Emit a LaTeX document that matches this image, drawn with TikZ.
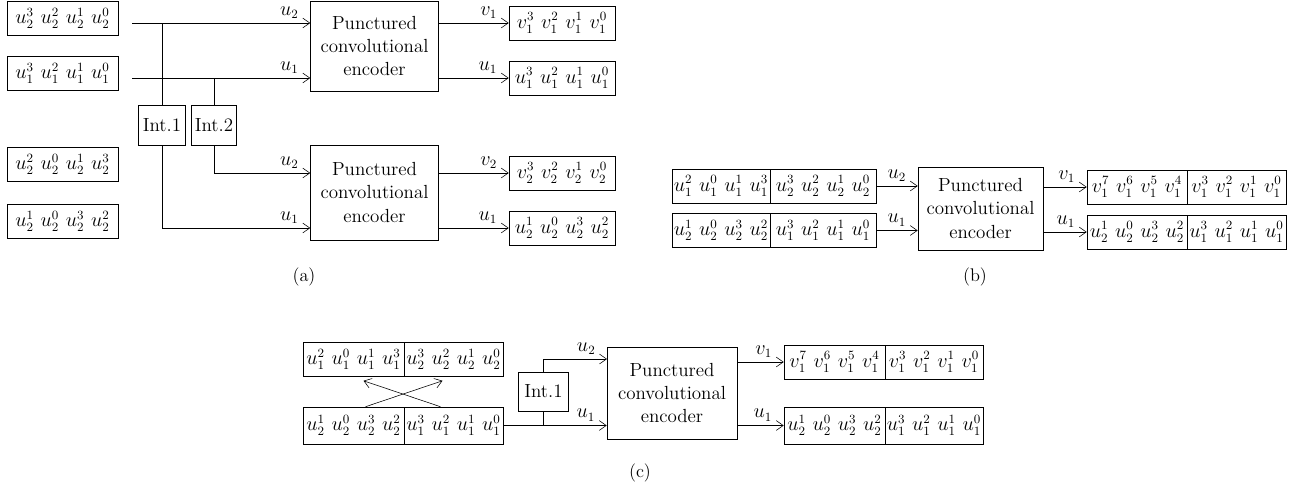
\documentclass[tikz,border=0pt]{standalone}
\usepackage{amsmath}
\usepackage{amssymb}
\usetikzlibrary{arrows.meta, positioning, calc}
\newcommand{\gp}{\mkern6mu}

\begin{document}
\begin{tikzpicture}[x=0.025cm, y=-0.025cm, >={Straight Barb[length=5pt,width=7pt]},
  every node/.style={font=\fontsize{13.5}{16.5}\selectfont},
  seqbox/.style={draw, inner sep=0pt, minimum height=34*0.025cm},
  encbox/.style={draw, inner sep=0pt, align=center, minimum width=128*0.025cm},
  intbox/.style={draw, inner sep=0pt, minimum height=40*0.025cm},
  lbl/.style={above left, inner sep=0pt, xshift=-8pt, yshift=3pt},
  captext/.style={font=\fontsize{13}{15}\selectfont}]

\useasboundingbox (0,0) rectangle (1307,488);

% (a) Input sequences
\node[seqbox,minimum width=111*0.025cm] (ina2) at (62.5,18.5) {$u_2^3\gp u_2^2\gp u_2^1\gp u_2^0$};
\node[seqbox,minimum width=111*0.025cm] (ina1) at (62.5,73.5) {$u_1^3\gp u_1^2\gp u_1^1\gp u_1^0$};
\node[seqbox,minimum width=111*0.025cm] (ina3) at (62.5,164.5) {$u_2^2\gp u_2^0\gp u_2^1\gp u_2^3$};
\node[seqbox,minimum width=111*0.025cm] (ina4) at (62.5,221.5) {$u_2^1\gp u_2^0\gp u_2^3\gp u_2^2$};

% (a) Encoders
\node[encbox,minimum height=90*0.025cm] (enca) at (374.5,46) {Punctured\\convolutional\\encoder};
\node[encbox,minimum height=95*0.025cm] (encb) at (374.5,192.5) {Punctured\\convolutional\\encoder};

% (a) Interleavers
\node[intbox,minimum width=47*0.025cm] (inta) at (162,125) {Int.1};
\node[intbox,minimum width=45*0.025cm] (intb) at (214,125) {Int.2};

% (a) Outputs
\node[seqbox,minimum width=106*0.025cm] (outa1) at (562,23) {$v_1^3\gp v_1^2\gp v_1^1\gp v_1^0$};
\node[seqbox,minimum width=106*0.025cm] (outa2) at (562,78) {$u_1^3\gp u_1^2\gp u_1^1\gp u_1^0$};
\node[seqbox,minimum width=106*0.025cm] (outa3) at (562,173) {$v_2^3\gp v_2^2\gp v_2^1\gp v_2^0$};
\node[seqbox,minimum width=106*0.025cm] (outa4) at (562,228) {$u_2^1\gp u_2^0\gp u_2^3\gp u_2^2$};

% (a) Connections
\coordinate (sa2) at (132,23);
\coordinate (sa1) at (132,78);
\draw[->] (sa2) -- (enca.west |- sa2) node[lbl] {$u_2$};
\draw[->] (sa1) -- (enca.west |- sa1) node[lbl] {$u_1$};
\draw (inta.north |- sa2) -- (inta.north);
\draw (intb.north |- sa1) -- (intb.north);
\draw[->] (intb.south) |- (encb.west |- outa3) node[lbl] {$u_2$};
\draw[->] (inta.south) |- (encb.west |- outa4) node[lbl] {$u_1$};
\draw[->] (enca.east |- outa1) -- (outa1.west) node[lbl] {$v_1$};
\draw[->] (enca.east |- outa2) -- (outa2.west) node[lbl] {$u_1$};
\draw[->] (encb.east |- outa3) -- (outa3.west) node[lbl] {$v_2$};
\draw[->] (encb.east |- outa4) -- (outa4.west) node[lbl] {$u_1$};

\node[captext] (capa) at (304,277) {(a)};

% (b) Input sequences
\node[seqbox,minimum width=98*0.025cm] (inb2l) at (721,186) {$u_1^2\gp u_1^0\gp u_1^1\gp u_1^3$};
\node[seqbox,minimum width=106*0.025cm] (inb2r) at (823,186) {$u_2^3\gp u_2^2\gp u_2^1\gp u_2^0$};
\node[seqbox,minimum width=98*0.025cm] (inb1l) at (721,230.5) {$u_2^1\gp u_2^0\gp u_2^3\gp u_2^2$};
\node[seqbox,minimum width=106*0.025cm] (inb1r) at (823,230.5) {$u_1^3\gp u_1^2\gp u_1^1\gp u_1^0$};

% (b) Encoder
\node[encbox,minimum width=125*0.025cm,minimum height=83*0.025cm] (encc) at (980.5,208.5) {Punctured\\convolutional\\encoder};

% (b) Outputs
\node[seqbox,minimum width=100*0.025cm] (outb1l) at (1137,187) {$v_1^7\gp v_1^6\gp v_1^5\gp v_1^4$};
\node[seqbox,minimum width=99*0.025cm] (outb1r) at (1236.5,187) {$v_1^3\gp v_1^2\gp v_1^1\gp v_1^0$};
\node[seqbox,minimum width=100*0.025cm] (outb2l) at (1137,232) {$u_2^1\gp u_2^0\gp u_2^3\gp u_2^2$};
\node[seqbox,minimum width=99*0.025cm] (outb2r) at (1236.5,232) {$u_1^3\gp u_1^2\gp u_1^1\gp u_1^0$};

% (b) Connections
\draw[->] (inb2r.east) -- (encc.west |- inb2r.east) node[lbl] {$u_2$};
\draw[->] (inb1r.east) -- (encc.west |- inb1r.east) node[lbl] {$u_1$};
\draw[->] (encc.east |- outb1l.west) -- (outb1l.west) node[lbl] {$v_1$};
\draw[->] (encc.east |- outb2l.west) -- (outb2l.west) node[lbl] {$u_1$};

\node[captext] (capb) at (975,277) {(b)};

% (c) Input sequences
\node[seqbox,minimum width=101*0.025cm] (inc2l) at (353.5,359.5) {$u_1^2\gp u_1^0\gp u_1^1\gp u_1^3$};
\node[seqbox,minimum width=99*0.025cm] (inc2r) at (453.5,359.5) {$u_2^3\gp u_2^2\gp u_2^1\gp u_2^0$};
\node[seqbox,minimum width=101*0.025cm,minimum height=37*0.025cm] (inc1l) at (353.5,425.5) {$u_2^1\gp u_2^0\gp u_2^3\gp u_2^2$};
\node[seqbox,minimum width=99*0.025cm,minimum height=37*0.025cm] (inc1r) at (453.5,425.5) {$u_1^3\gp u_1^2\gp u_1^1\gp u_1^0$};

% (c) Interleaver and encoder
\node[intbox,minimum width=50*0.025cm,minimum height=39*0.025cm] (intc) at (543.5,391.5) {Int.1};
\node[encbox,minimum width=130*0.025cm,minimum height=92*0.025cm] (encd) at (672,393) {Punctured\\convolutional\\encoder};

% (c) Outputs
\node[seqbox,minimum width=101*0.025cm] (outc1l) at (834.5,362) {$v_1^7\gp v_1^6\gp v_1^5\gp v_1^4$};
\node[seqbox,minimum width=98*0.025cm] (outc1r) at (934,362) {$v_1^3\gp v_1^2\gp v_1^1\gp v_1^0$};
\node[seqbox,minimum width=101*0.025cm,minimum height=37*0.025cm] (outc2l) at (834.5,425.5) {$u_2^1\gp u_2^0\gp u_2^3\gp u_2^2$};
\node[seqbox,minimum width=98*0.025cm,minimum height=37*0.025cm] (outc2r) at (934,425.5) {$u_1^3\gp u_1^2\gp u_1^1\gp u_1^0$};

% (c) Connections
\draw[->] ($(inc1l.north)+(12,0)$) -- ($(inc2r.south)+(-11,4)$);
\draw[->] ($(inc1r.north)+(-13,0)$) -- ($(inc2l.south)+(10,4)$);
\coordinate (tc) at (607,359);
\draw[->] (inc1r.east) -- (encd.west |- inc1r.east) node[lbl] {$u_1$};
\draw (intc.south) -- (intc.south |- inc1r.east);
\draw[->] (intc.north) |- (tc) node[lbl] {$u_2$};
\draw[->] (encd.east |- outc1l.west) -- (outc1l.west) node[lbl] {$v_1$};
\draw[->] (encd.east |- outc2l.west) -- (outc2l.west) node[lbl] {$u_1$};

\node[captext] (capc) at (640,473) {(c)};

\end{tikzpicture}
\end{document}
